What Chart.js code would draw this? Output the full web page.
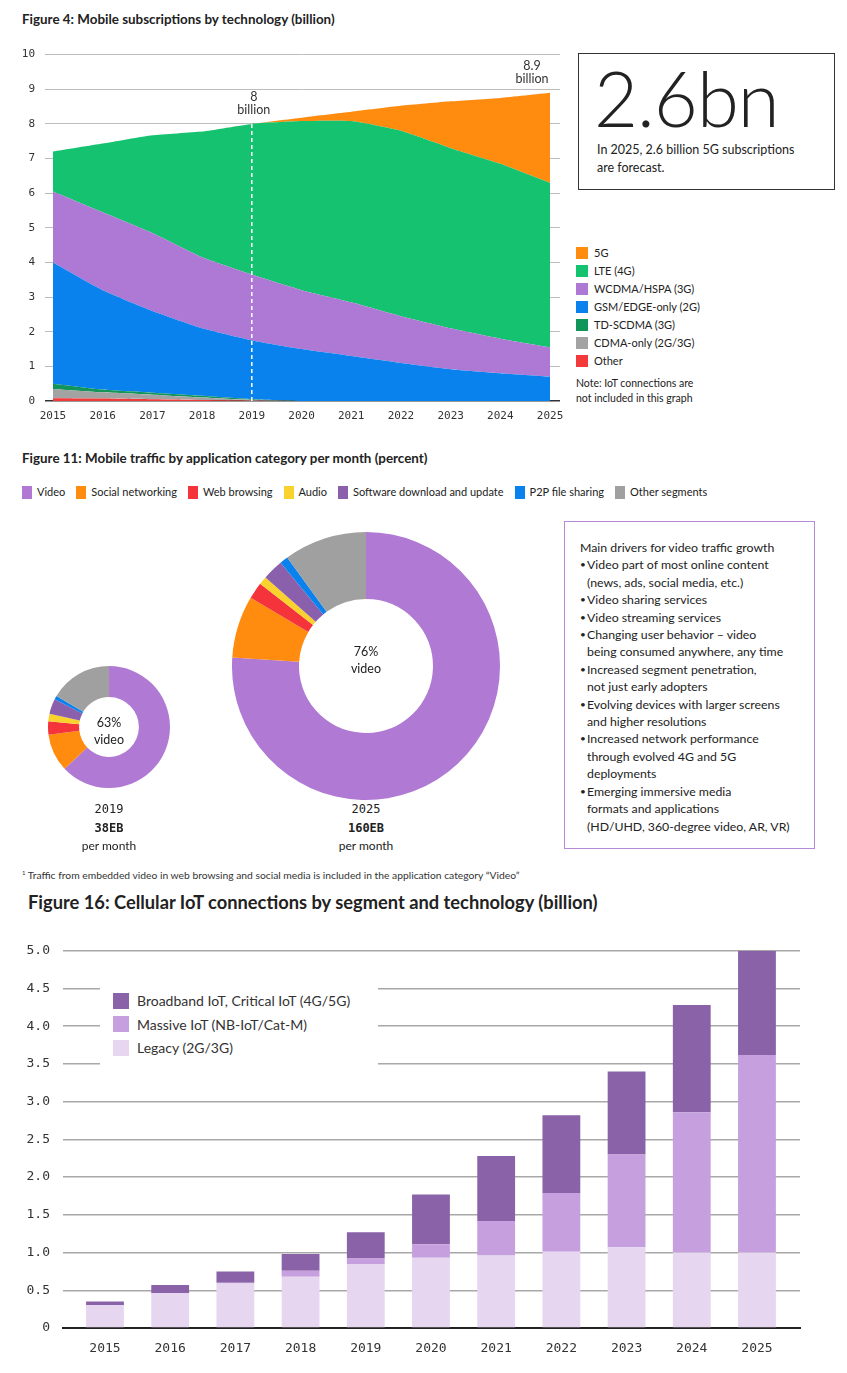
<!DOCTYPE html>
<html>
<head>
<meta charset="utf-8">
<script src="https://cdn.jsdelivr.net/npm/chart.js@4.4.1/dist/chart.umd.min.js"></script>
<style>
  body { margin:0; width:847px; height:1373px; position:relative; background:#fff; overflow:hidden;
         font-family: Lato, "Noto Sans", sans-serif; color:#222; }
  .abs { position:absolute; }
  .title { font-weight:700; font-size:13.4px; }
  .sw { display:inline-block; vertical-align:middle; }
  .leg4 div { height:18px; font-size:11px; line-height:18px; }
  .leg4 .sw { width:12px; height:12px; margin-right:6px; margin-top:-2px; }
  .leg11 { display:flex; font-size:11px; line-height:14px; }
  .leg11 span.it { margin-right:11px; white-space:nowrap; }
  .leg11 .sw { width:10px; height:13px; margin-right:5px; margin-top:-2px; }
  .mono { font-family:"DejaVu Sans Mono", monospace; }
  .cap { text-align:center; font-size:12px; line-height:17.5px; }
  .box li { list-style:none; position:relative; padding-left:7px; }
  .box li:before { content:"\2022"; position:absolute; left:0; font-size:10px; }
  .box li.head { padding-left:0; }
  .box li.head:before { content:""; }
  .leg16 div { height:23.5px; font-size:14px; line-height:23.5px; color:#333; }
  .leg16 .sw { width:16px; height:16px; margin-right:8px; margin-top:-3px; }
</style>
</head>
<body>

<!-- Figure 4 -->
<div class="abs title" style="left:22px;top:11px;">Figure 4: Mobile subscriptions by technology (billion)</div>
<canvas id="subs" class="abs" style="left:0;top:38px;" width="566" height="386"></canvas>
<div class="abs" style="left:578px;top:53px;width:255px;height:135px;border:1px solid #333;"></div>
<div class="abs" style="left:594px;top:53px;font-size:76px;font-weight:300;letter-spacing:-1px;line-height:90px;">2.6bn</div>
<div class="abs" style="left:597px;top:141px;font-size:12.5px;line-height:18px;">In 2025, 2.6 billion 5G subscriptions<br>are forecast.</div>
<div class="abs leg4" id="leg4" style="left:576px;top:244px;"></div>
<div class="abs" style="left:576px;top:376px;font-size:10.5px;line-height:15px;">Note: IoT connections are<br>not included in this graph</div>

<!-- Figure 11 -->
<div class="abs title" style="left:22px;top:450px;">Figure 11: Mobile traffic by application category per month (percent)</div>
<div class="abs leg11" id="leg11" style="left:22px;top:485px;"></div>
<canvas id="d2019" class="abs" style="left:48px;top:666px;" width="122" height="122"></canvas>
<canvas id="d2025" class="abs" style="left:232px;top:532px;" width="268" height="268"></canvas>
<div class="abs cap" style="left:69px;top:714px;width:80px;line-height:17px;font-size:12.5px;">63%<br>video</div>
<div class="abs cap" style="left:326px;top:643px;width:80px;line-height:17px;font-size:12.5px;">76%<br>video</div>
<div class="abs cap" style="left:59px;top:800px;width:100px;"><span class="mono">2019</span><br><b class="mono">38EB</b><br>per month</div>
<div class="abs cap" style="left:316px;top:800px;width:100px;"><span class="mono">2025</span><br><b class="mono">160EB</b><br>per month</div>
<div class="abs box" style="left:564px;top:521px;width:251px;height:328px;border:1px solid #b58ad8;box-sizing:border-box;">
  <ul style="margin:0;padding:17px 0 0 15px;font-size:12.3px;line-height:17.4px;">
    <li class="head">Main drivers for video traffic growth</li>
    <li>Video part of most online content<br>(news, ads, social media, etc.)</li>
    <li>Video sharing services</li>
    <li>Video streaming services</li>
    <li>Changing user behavior – video<br>being consumed anywhere, any time</li>
    <li>Increased segment penetration,<br>not just early adopters</li>
    <li>Evolving devices with larger screens<br>and higher resolutions</li>
    <li>Increased network performance<br>through evolved 4G and 5G<br>deployments</li>
    <li>Emerging immersive media<br>formats and applications<br>(HD/UHD, 360-degree video, AR, VR)</li>
  </ul>
</div>
<div class="abs" style="left:22px;top:869px;font-size:10.3px;color:#333;"><sup style="font-size:6px">1</sup> Traffic from embedded video in web browsing and social media is included in the application category “Video”</div>

<!-- Figure 16 -->
<div class="abs" style="left:28px;top:891px;font-size:18.3px;font-weight:700;color:#222;">Figure 16: Cellular IoT connections by segment and technology (billion)</div>
<canvas id="iot" class="abs" style="left:0;top:930px;" width="847" height="443"></canvas>
<div class="abs leg16" id="leg16" style="left:100px;top:977px;width:278px;height:88px;background:#fff;padding:12px 0 0 13px;box-sizing:border-box;"></div>

<script>
// ---- Figure 4 data ----
const years = [2015, 2016, 2017, 2018, 2019, 2020, 2021, 2022, 2023, 2024, 2025];
const subsNames = ['Other', 'CDMA-only (2G/3G)', 'TD-SCDMA (3G)', 'GSM/EDGE-only (2G)', 'WCDMA/HSPA (3G)', 'LTE (4G)', '5G'];
const other   = [0.08, 0.07, 0.05, 0.03, 0.01, 0, 0, 0, 0, 0, 0];
const cdma    = [0.27, 0.18, 0.13, 0.07, 0.02, 0, 0, 0, 0, 0, 0];
const tdscdma = [0.15, 0.08, 0.06, 0.05, 0.02, 0, 0, 0, 0, 0, 0];
const gsm     = [3.5, 2.87, 2.36, 1.95, 1.7, 1.5, 1.3, 1.1, 0.92, 0.8, 0.7];
const wcdma   = [2.05, 2.25, 2.25, 2.05, 1.9, 1.7, 1.55, 1.35, 1.18, 1.0, 0.85];
const lte     = [1.15, 1.98, 2.82, 3.63, 4.35, 4.88, 5.23, 5.35, 5.2, 5.05, 4.75];
const fiveG   = [0, 0, 0, 0, 0, 0.1, 0.27, 0.72, 1.35, 1.9, 2.6];
const subsColors = ['#f23a3a', '#a3a3a3', '#11955a', '#0a82ee', '#ae79d4', '#15c26f', '#ff8b0f'];
const yTicks4 = [0, 1, 2, 3, 4, 5, 6, 7, 8, 9, 10];
const marked = [2019, 2025]; // years with total labels

// ---- Figure 11 data ----
const appNames = ['Video', 'Social networking', 'Web browsing', 'Audio', 'Software download and update', 'P2P file sharing', 'Other segments'];
const share2019 = [63, 10, 3.5, 2, 4, 1, 16.5];
const share2025 = [76, 7.5, 2, 1, 2.5, 1, 10];
const appColors = ['#af79d4', '#ff8b0f', '#f5333a', '#fad22d', '#8a60ad', '#0a82ee', '#a0a0a0'];

// ---- Figure 16 data ----
const iotNames = ['Broadband IoT, Critical IoT (4G/5G)', 'Massive IoT (NB-IoT/Cat-M)', 'Legacy (2G/3G)'];
const broadband = [0.05, 0.11, 0.15, 0.22, 0.35, 0.66, 0.86, 1.03, 1.10, 1.42, 1.38];
const massive   = [0, 0, 0.01, 0.08, 0.07, 0.18, 0.46, 0.78, 1.23, 1.86, 2.62];
const legacy    = [0.30, 0.46, 0.59, 0.68, 0.85, 0.93, 0.96, 1.01, 1.07, 1.0, 1.0];
const iotColors = ['#8a62a8', '#c69fde', '#e6d6f0'];
const yTicks16 = [0, 0.5, 1, 1.5, 2, 2.5, 3, 3.5, 4, 4.5, 5];

const monoFont = { family: 'DejaVu Sans Mono', size: 11 };

// ----- Figure 4: stacked area -----
const subsSeries = [other, cdma, tdscdma, gsm, wcdma, lte, fiveG];
const totalAt = i => subsSeries.reduce((s, a) => s + a[i], 0);

const markers = {
  id: 'markers',
  afterDatasetsDraw(chart) {
    const { ctx, scales: { x, y } } = chart;
    ctx.save();
    marked.forEach((yr, k) => {
      const i = years.indexOf(yr);
      const tot = totalAt(i);
      const px = x.getPixelForValue(yr), py = y.getPixelForValue(tot);
      if (k === 0) {
        ctx.strokeStyle = '#fff';
        ctx.lineWidth = 1.5;
        ctx.setLineDash([4, 3]);
        ctx.beginPath();
        ctx.moveTo(px, y.getPixelForValue(0));
        ctx.lineTo(px, py);
        ctx.stroke();
        ctx.setLineDash([]);
      }
      const cx = k === 0 ? px + 2 : px - 18;
      ctx.fillStyle = '#333';
      ctx.font = '12.5px Lato';
      ctx.textAlign = 'center';
      ctx.textBaseline = 'middle';
      ctx.fillText(String(Math.round(tot * 10) / 10), cx, py - 27);
      ctx.fillText('billion', cx, py - 14);
    });
    ctx.restore();
  }
};

new Chart(document.getElementById('subs'), {
  type: 'line',
  data: {
    datasets: subsSeries.map((arr, i) => ({
      label: subsNames[i],
      data: years.map((yr, j) => ({ x: yr, y: arr[j] })),
      backgroundColor: subsColors[i],
      borderWidth: 0,
      pointRadius: 0,
      fill: i === 0 ? 'origin' : '-1',
      tension: 0.15
    }))
  },
  options: {
    responsive: false,
    animation: false,
    layout: { padding: { top: 11, right: 6 } },
    plugins: { legend: { display: false }, tooltip: { enabled: false } },
    scales: {
      x: {
        type: 'linear', min: 2014.84, max: 2025.2,
        afterBuildTicks: s => { s.ticks = years.map(v => ({ value: v })); },
        afterFit: s => { s.height = 23; },
        grid: { display: false },
        border: { display: false },
        ticks: { font: monoFont, color: '#333', padding: 1, callback: v => String(v) }
      },
      y: {
        stacked: true, min: 0, max: 10,
        afterBuildTicks: s => { s.ticks = yTicks4.map(v => ({ value: v })); },
        afterFit: s => { s.width = 45; },
        border: { display: false },
        grid: { drawTicks: false, color: c => c.tick && c.tick.value === 0 ? '#333' : '#bdbdbd', lineWidth: c => c.tick && c.tick.value === 0 ? 1.5 : 1 },
        ticks: { font: monoFont, color: '#333', padding: 10 }
      }
    }
  },
  plugins: [markers]
});

// legend for Figure 4 (top item first)
document.getElementById('leg4').innerHTML = subsNames.map((n, i) =>
  `<div><span class="sw" style="background:${subsColors[i]}"></span>${n}</div>`).reverse().join('');

// ----- Figure 11: doughnuts -----
document.getElementById('leg11').innerHTML = appNames.map((n, i) =>
  `<span class="it"><span class="sw" style="background:${appColors[i]}"></span>${n}</span>`).join('');

function donut(id, values, cut) {
  new Chart(document.getElementById(id), {
    type: 'doughnut',
    data: { labels: appNames, datasets: [{ data: values, backgroundColor: appColors, borderWidth: 0 }] },
    options: {
      responsive: false, animation: false, cutout: cut,
      plugins: { legend: { display: false }, tooltip: { enabled: false } }
    }
  });
}
donut('d2019', share2019, '49%');
donut('d2025', share2025, '50%');

// ----- Figure 16: stacked bars -----
const iotSeries = [legacy, massive, broadband];
new Chart(document.getElementById('iot'), {
  type: 'bar',
  data: {
    datasets: iotSeries.map((arr, i) => ({
      label: iotNames[2 - i],
      data: years.map((yr, j) => ({ x: yr, y: arr[j] })),
      backgroundColor: iotColors[2 - i],
      borderWidth: 0,
      barPercentage: 0.58,
      categoryPercentage: 1
    }))
  },
  options: {
    responsive: false,
    animation: false,
    layout: { padding: { top: 10, right: 47 } },
    plugins: { legend: { display: false }, tooltip: { enabled: false } },
    scales: {
      x: {
        type: 'linear', stacked: true, min: 2014.356, max: 2025.66,
        offset: false,
        afterBuildTicks: s => { s.ticks = years.map(v => ({ value: v })); },
        afterFit: s => { s.height = 45; },
        grid: { display: false },
        border: { display: true, color: '#222', width: 2 },
        ticks: { font: { family: 'DejaVu Sans Mono', size: 13 }, color: '#333', padding: 5, callback: v => String(v) }
      },
      y: {
        stacked: true, min: 0, max: 5,
        afterBuildTicks: s => { s.ticks = yTicks16.map(v => ({ value: v })); },
        afterFit: s => { s.width = 63; },
        border: { display: false },
        grid: { drawTicks: false, color: '#a8a8a8', lineWidth: 1.5 },
        ticks: { font: { family: 'DejaVu Sans Mono', size: 13 }, color: '#333', padding: 13,
                 callback: v => v === 0 ? '0' : v.toFixed(1) }
      }
    }
  }
});

document.getElementById('leg16').innerHTML = iotNames.map((n, i) =>
  `<div><span class="sw" style="background:${iotColors[i]}"></span>${n}</div>`).join('');
</script>
</body>
</html>
